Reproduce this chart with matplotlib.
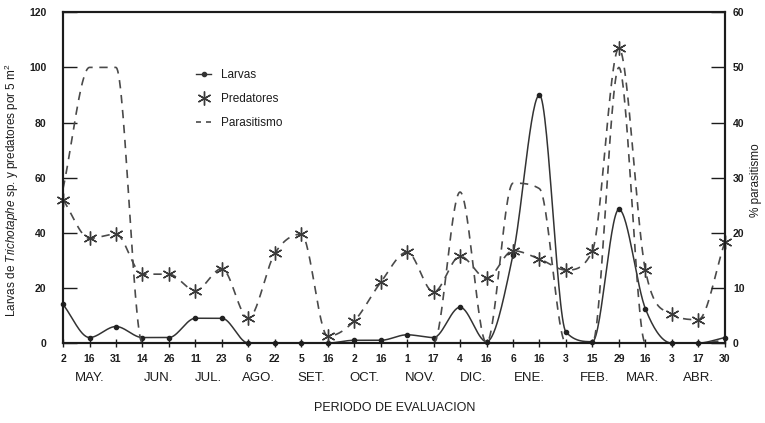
import numpy as np
import matplotlib
matplotlib.use("Agg")
import matplotlib.pyplot as plt
from matplotlib.lines import Line2D

plt.rcParams["font.family"] = ["Liberation Sans", "DejaVu Sans"]
plt.rcParams["mathtext.fontset"] = "custom"
plt.rcParams["mathtext.rm"] = "Liberation Sans"
plt.rcParams["mathtext.it"] = "Liberation Sans:italic"

days = ["2", "16", "31", "14", "26", "11", "23", "6", "22", "5", "16", "2", "16",
        "1", "17", "4", "16", "6", "16", "3", "15", "29", "16", "3", "17", "30"]
months = ["MAY.", "JUN.", "JUL.", "AGO.", "SET.", "OCT.", "NOV.", "DIC.", "ENE.",
          "FEB.", "MAR.", "ABR."]
month_pos = [1.0, 3.6, 5.5, 7.4, 9.4, 11.4, 13.5, 15.5, 17.6, 20.1, 21.9, 24.0]

larvas = [14, 2, 6, 2, 2, 9, 9, 0, 0, 0, 0, 1, 1, 3, 2, 13, 0.5, 32, 90, 4, 0.5,
          48.5, 12.5, 0, 0, 2]
predatores = [52, 38, 39.5, 25, 25, 19, 27, 9, 32.5, 39.5, 2.5, 8, 22, 33, 18.5,
              31.5, 23.5, 33.5, 30.5, 26.5, 33.5, 107, 26.5, 10.5, 8.5, 36.5]
parasitismo = [28, 50, 50, 0, 0, 0, 0, 0, 0, 0, 0, 0, 0, 0, 0, 27.4, 0, 29, 28,
               0, 0, 50, 0, 0, 0, 0.5]

INK = "#1c1c1c"
LINE = "#4a4a4a"


def smooth(y, n=30):
    # monotone cubic through the points, to mimic the curve fit of the original
    y = np.asarray(y, dtype=float)
    d = np.diff(y)
    m = np.zeros(len(y))
    m[0], m[-1] = d[0], d[-1]
    for k in range(1, len(y) - 1):
        if d[k - 1] * d[k] > 0:
            m[k] = (d[k - 1] + d[k]) / 2
    for k in range(len(d)):
        if d[k] == 0:
            m[k] = m[k + 1] = 0
            continue
        a, b = m[k] / d[k], m[k + 1] / d[k]
        s = a * a + b * b
        if s > 9:
            t = 3 / np.sqrt(s)
            m[k], m[k + 1] = t * a * d[k], t * b * d[k]
    xs, ys = [], []
    t = np.linspace(0, 1, n, endpoint=False)
    h00 = 2 * t**3 - 3 * t**2 + 1
    h10 = t**3 - 2 * t**2 + t
    h01 = -2 * t**3 + 3 * t**2
    h11 = t**3 - t**2
    for k in range(len(d)):
        xs.append(k + t)
        ys.append(h00 * y[k] + h10 * m[k] + h01 * y[k + 1] + h11 * m[k + 1])
    xs.append([len(y) - 1])
    ys.append([y[-1]])
    return np.concatenate(xs), np.concatenate(ys)


fig = plt.figure(figsize=(7.65, 4.23), dpi=100)
ax = fig.add_axes([0.0824, 0.189, 0.865, 0.782])
x = np.arange(len(days))

sx, sy = smooth(larvas)
ax.plot(sx, sy, color="#333333", lw=1.1)
ax.plot(x, larvas, "o", color="#222222", ms=3, clip_on=False)

sx, sy = smooth(predatores)
ax.plot(sx, sy, color=LINE, lw=1.2, dashes=(5, 4))
ax.plot(x, predatores, ls="none", marker=(6, 2, 0), ms=10, mew=1,
        color="#3a3a3a", clip_on=False)

ax.set_xlim(0, 25)
ax.set_ylim(0, 120)
ax.set_yticks(range(0, 121, 20))
ax.set_xticks(x)
ax.set_xticklabels(days)

ax2 = ax.twinx()
sx, sy = smooth(parasitismo)
ax2.plot(sx, sy, color=LINE, lw=1.2, dashes=(5, 4))
ax2.set_ylim(0, 60)
ax2.set_yticks(range(0, 61, 10))

for a in (ax, ax2):
    for s in a.spines.values():
        s.set_color(INK)
        s.set_linewidth(1.5)

ax.tick_params(axis="y", direction="in", length=10, width=1, pad=12,
               labelsize=7.5, colors=INK)
ax.tick_params(axis="x", direction="inout", length=6, width=1, pad=5,
               labelsize=7.5, colors=INK)
ax2.tick_params(axis="y", direction="in", length=10, width=1, pad=6,
                labelsize=7.5, colors=INK)
for lab in ax.get_xticklabels() + ax.get_yticklabels() + ax2.get_yticklabels():
    lab.set_fontweight("bold")

for m, p in zip(months, month_pos):
    ax.text(p, -0.106, m, transform=ax.get_xaxis_transform(), ha="center",
            va="center", fontsize=9.5, color=INK)

fig.text(395 / 765, 15 / 423, "PERIODO DE EVALUACION", ha="center",
         va="center", fontsize=9, color=INK)
fig.text(12 / 765, 1 - 190 / 423,
         r"Larvas de $\it{Trichotaphe}$ sp. y predatores por 5 m$^2$",
         rotation=90, ha="center", va="center", fontsize=8.5, color=INK)
fig.text(756 / 765, 1 - 180 / 423, "% parasitismo", rotation=90, ha="center",
         va="center", fontsize=8.5, color=INK)

handles = [
    Line2D([], [], color="#333333", lw=1, marker="o", ms=3),
    Line2D([], [], color="#3a3a3a", ls="none", marker=(6, 2, 0), ms=10, mew=1),
    Line2D([], [], color=LINE, lw=1.2, dashes=(3, 3)),
]
ax.legend(handles, ["Larvas", "Predatores", "Parasitismo"], loc="upper left",
          bbox_to_anchor=(0.185, 0.86), frameon=False, fontsize=8.5,
          handlelength=1.3, labelspacing=1.0, handletextpad=0.8,
          labelcolor=INK)

fig.savefig("out.png", dpi=100)
